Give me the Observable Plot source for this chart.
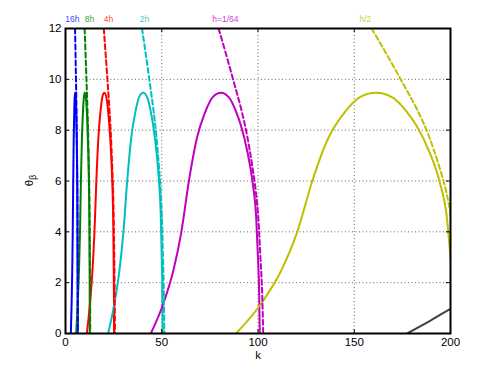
<!DOCTYPE html>
<html>
<head>
<meta charset="utf-8">
<script src="https://cdn.jsdelivr.net/npm/d3@7"></script>
<script src="https://cdn.jsdelivr.net/npm/@observablehq/plot@0.6"></script>
<style>
  html, body { margin: 0; padding: 0; background: #fff; }
  #chart svg { display: block; }
</style>
</head>
<body>
<div id="chart"></div>
<script>
// ---- data ----
const seriesNames  = ["16h", "8h", "4h", "2h", "h=1/64", "h/2"];
const seriesColors = ["#0000ff", "#008000", "#ff0000", "#00bfbf", "#bf00bf", "#bfbf00"];

// theta values shared by every solid hump and every dashed branch
const thetaSolid  = [0, 1.15, 2.5, 4.0, 6.0, 7.7, 8.7, 9.3, 9.47, 9.28, 8.75, 8.19, 7.15, 5.95, 4.5, 2.94, 1.6, 0];
const thetaDashed = [12, 10.9, 9.85, 8.85, 7.8, 6.6, 5.5, 4.5, 2.94, 1.5, 0];

// k positions of each series (solid hump)
const k16hSolid  = [2.77, 3.17, 3.51, 3.76, 4.01, 4.27, 4.53, 4.78, 5.04, 5.31, 5.53, 5.69, 5.91, 6.08, 6.19, 6.25, 6.29, 6.31];
const k8hSolid   = [5.54, 6.34, 7.01, 7.53, 8.01, 8.54, 9.06, 9.56, 10.09, 10.63, 11.06, 11.39, 11.81, 12.15, 12.39, 12.5, 12.58, 12.61];
const k4hSolid   = [11.08, 12.68, 14.03, 15.05, 16.03, 17.08, 18.13, 19.13, 20.18, 21.25, 22.13, 22.78, 23.63, 24.3, 24.78, 25.0, 25.15, 25.23];
const k2hSolid   = [22.15, 25.35, 28.05, 30.1, 32.05, 34.15, 36.25, 38.25, 40.35, 42.5, 44.25, 45.55, 47.25, 48.6, 49.55, 50.0, 50.3, 50.45];
const khSolid    = [44.3, 50.7, 56.1, 60.2, 64.1, 68.3, 72.5, 76.5, 80.7, 85.0, 88.5, 91.1, 94.5, 97.2, 99.1, 100.0, 100.6, 100.9];
const kHalfSolid = [88.6, 101.4, 112.2, 120.4, 128.2, 136.6, 145.0, 153.0, 161.4, 170.0, 177.0, 182.2, 189.0, 194.4, 198.2, 200.0, 201.2, 201.8];

// k positions of each series (dashed branch)
const k16hDashed  = [4.97, 5.23, 5.48, 5.70, 5.89, 6.06, 6.19, 6.26, 6.33, 6.39, 6.42];
const k8hDashed   = [9.94, 10.47, 10.95, 11.40, 11.79, 12.13, 12.38, 12.53, 12.66, 12.78, 12.84];
const k4hDashed   = [19.88, 20.94, 21.90, 22.80, 23.58, 24.25, 24.75, 25.05, 25.33, 25.55, 25.68];
const k2hDashed   = [39.75, 41.88, 43.80, 45.60, 47.15, 48.50, 49.50, 50.10, 50.65, 51.10, 51.35];
const khDashed    = [79.5, 83.75, 87.6, 91.2, 94.3, 97.0, 99.0, 100.2, 101.3, 102.2, 102.7];
const kHalfDashed = [159.0, 167.5, 175.2, 182.4, 188.6, 194.0, 198.0, 200.4, 202.6, 204.4, 205.4];

// dark grey curve in the lower right
const kGray     = [177.5, 183.5, 189.6, 195.0, 200.0];
const thetaGray = [0, 0.25, 0.51, 0.75, 0.97];

// label anchors (k) for the coloured names above the frame
const labelK = [3.6, 12.5, 22.3, 41.0, 83.1, 155.8];

const xTicks = [0, 50, 100, 150, 200];
const yTicks = [0, 2, 4, 6, 8, 10, 12];

// ---- build tables ----
const solidK  = [k16hSolid, k8hSolid, k4hSolid, k2hSolid, khSolid, kHalfSolid];
const dashedK = [k16hDashed, k8hDashed, k4hDashed, k2hDashed, khDashed, kHalfDashed];

const solidRows = seriesNames.flatMap((name, s) =>
  solidK[s].map((k, i) => ({ name, k, theta: thetaSolid[i] })));
const dashedRows = seriesNames.flatMap((name, s) =>
  dashedK[s].map((k, i) => ({ name, k, theta: thetaDashed[i] })));
const grayRows = kGray.map((k, i) => ({ k, theta: thetaGray[i] }));
const labelRows = seriesNames.map((name, i) => ({ name, k: labelK[i] }));

const W = 498, H = 374;
const mt = 28, mr = 48, mb = 41, ml = 65;
const plotW = W - ml - mr, plotH = H - mt - mb;

const chart = Plot.plot({
  width: W,
  height: H,
  marginTop: mt, marginRight: mr, marginBottom: mb, marginLeft: ml,
  style: { fontFamily: "'Liberation Sans', Arial, Helvetica, sans-serif", fontSize: "11.5px", color: "#000", background: "#fff" },
  x: { domain: [0, 200] },
  y: { domain: [0, 12] },
  color: { domain: seriesNames, range: seriesColors },
  marks: [
    Plot.gridX(xTicks, { stroke: "#666", strokeOpacity: 1, strokeWidth: 1, strokeDasharray: "1,2.5" }),
    Plot.gridY(yTicks, { stroke: "#666", strokeOpacity: 1, strokeWidth: 1, strokeDasharray: "1,2.5" }),
    Plot.line(solidRows, { x: "k", y: "theta", z: "name", stroke: "name", strokeWidth: 2, curve: "monotone-x", clip: true }),
    Plot.line(dashedRows, { x: "k", y: "theta", z: "name", stroke: "name", strokeWidth: 2, strokeDasharray: "5,3", curve: "monotone-x", clip: true }),
    Plot.line(grayRows, { x: "k", y: "theta", stroke: "#404040", strokeWidth: 2, curve: "monotone-x", clip: true }),
    Plot.frame({ stroke: "#000", strokeWidth: 2 }),
    // inward ticks
    Plot.tickX(xTicks, { x: d => d, insetTop: plotH - 4, stroke: "#000", strokeWidth: 1 }),
    Plot.tickX(xTicks, { x: d => d, insetBottom: plotH - 4, stroke: "#000", strokeWidth: 1 }),
    Plot.tickY(yTicks, { y: d => d, insetRight: plotW - 4, stroke: "#000", strokeWidth: 1 }),
    Plot.tickY(yTicks, { y: d => d, insetLeft: plotW - 4, stroke: "#000", strokeWidth: 1 }),
    Plot.axisX({ ticks: xTicks, tickSize: 0, tickPadding: 4, label: null }),
    Plot.axisY({ ticks: yTicks, tickSize: 0, tickPadding: 4, label: null }),
    Plot.text(["k"], { text: d => d, frameAnchor: "bottom", dy: 25, fontSize: 11.5 }),
    Plot.text(labelRows, { x: "k", text: "name", fill: "name", frameAnchor: "top", dy: -13, fontSize: 8.5, fillOpacity: 0.8 })
  ]
});

// y-axis title θ with subscript β
const svg = d3.select(chart);
const yl = svg.append("text")
  .attr("transform", `translate(${ml - 32},${mt + plotH / 2}) rotate(-90)`)
  .attr("text-anchor", "middle")
  .attr("font-size", 11.5)
  .attr("fill", "#000");
yl.append("tspan").text("θ");
yl.append("tspan").attr("font-size", 8.5).attr("dy", "0.35em").text("β");

document.getElementById("chart").appendChild(chart);
</script>
</body>
</html>
